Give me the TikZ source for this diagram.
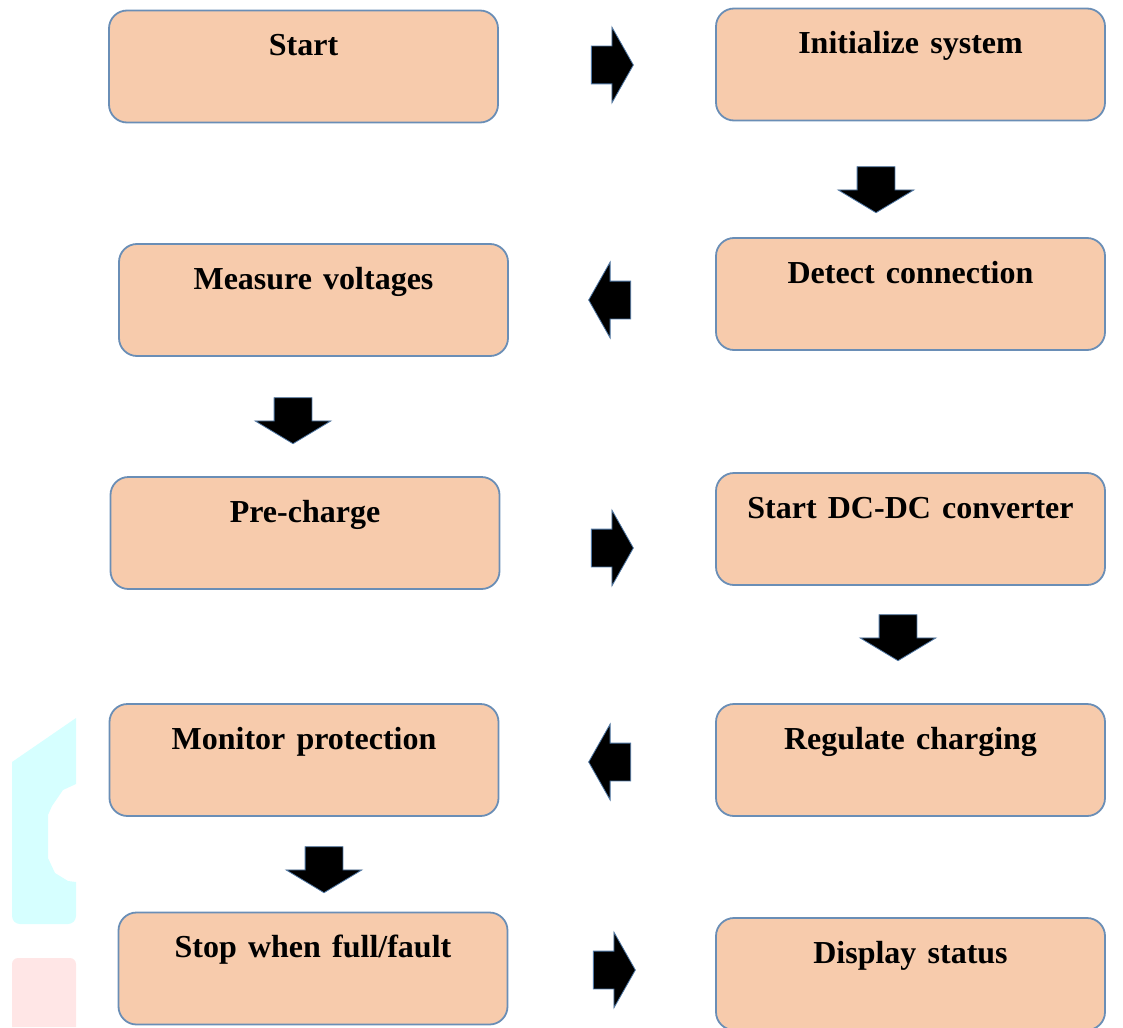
\documentclass[tikz,border=0pt]{standalone}
\usepackage{fontspec}
\setmainfont{Liberation Serif}
\usepackage{tikz}
\usetikzlibrary{
  positioning,
  shapes.arrows
}
\definecolor{BoxFill}{RGB}{247,203,172}
\definecolor{BoxEdge}{RGB}{106,142,182}
\definecolor{ArrowEdge}{RGB}{80,120,165}
\definecolor{MarkCyan}{RGB}{214,255,255}
\definecolor{MarkPink}{RGB}{255,230,230}
\newcommand{\stepfont}{\bfseries\fontsize{32}{36}\selectfont\spaceskip=0.35em plus 0.1em}
\tikzset{
  stepbox/.style={
    draw=BoxEdge,
    fill=BoxFill,
    line width=1.8pt,
    rounded corners=18pt,
    minimum width=389pt,
    minimum height=112pt,
    inner xsep=0pt,
    inner ysep=0pt,
    text height=45pt,
    text depth=67pt,
    font=\stepfont
  },
  flowarrow/.style={
    single arrow,
    draw=ArrowEdge,
    fill=black,
    line width=0.8pt,
    inner xsep=0pt,
    inner ysep=18.5pt,
    minimum width=75pt,
    single arrow head extend=19pt,
    single arrow tip angle=121,
    minimum height=42pt
  },
  rightarrow/.style={flowarrow},
  leftarrow/.style={flowarrow, rotate=180},
  downarrow/.style={flowarrow, rotate=-90, minimum height=46pt, single arrow tip angle=118}
}

\begin{document}
\begin{tikzpicture}[x=1pt, y=-1pt]
  \useasboundingbox (0,0) rectangle (1123,1027);
  % faint marks at the left border
  \fill[MarkCyan] (76,718) -- (12,762) -- (12,912) [rounded corners=8pt] -- (12,924) -- (76,924)
    [sharp corners] -- (76,882) -- (68,881) -- (55,873) -- (48,858) -- (48,815) -- (52,806)
    -- (63,790) -- (76,784) -- cycle;
  \fill[MarkPink, rounded corners=6pt] (12,1027) -- (12,958) -- (76,958) [sharp corners] -- (76,1027) -- cycle;

  % Charging steps: two columns, read as a snake.
  \node[stepbox] (start) at (303.5,66.5) {Start};
  \node[stepbox] (init) at (910.5,64.5) {Initialize system};
  \node[stepbox] (detect) at (910.5,294) {Detect connection};
  \node[stepbox] (measure) at (313.5,300) {Measure voltages};
  \node[stepbox] (precharge) at (305,533) {Pre-charge};
  \node[stepbox] (dcdc) at (910.5,529) {Start DC-DC converter};
  \node[stepbox] (regulate) at (910.5,760) {Regulate charging};
  \node[stepbox] (monitor) at (304,760) {Monitor protection};
  \node[stepbox] (stop) at (313,968.5) {Stop when full/fault};
  \node[stepbox] (display) at (910.5,974) {Display status};

  % block arrows between the steps
  \node[rightarrow] (a1) at (607,65) {};
  \node[downarrow] (a2) at (876,184) {};
  \node[leftarrow] (a3) at (615,300) {};
  \node[downarrow] (a4) at (293,415) {};
  \node[rightarrow] (a5) at (607,548) {};
  \node[downarrow] (a6) at (898,632) {};
  \node[leftarrow] (a7) at (615,762) {};
  \node[downarrow] (a8) at (324,864) {};
  \node[rightarrow] (a9) at (609,970) {};
\end{tikzpicture}
\end{document}
